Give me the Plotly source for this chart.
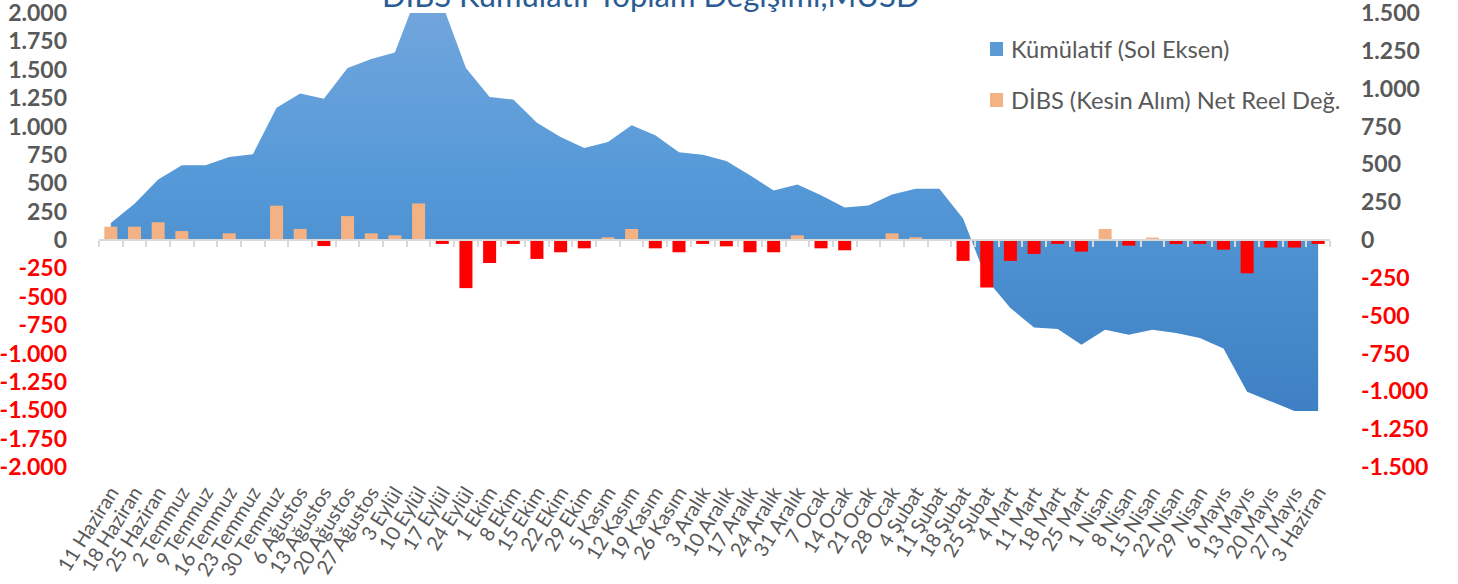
import plotly.graph_objects as go

categories = ["11 Haziran", "18 Haziran", "25 Haziran", "2 Temmuz", "9 Temmuz", "16 Temmuz", "23 Temmuz",
              "30 Temmuz", "6 Ağustos", "13 Ağustos", "20 Ağustos", "27 Ağustos", "3 Eylül", "10 Eylül",
              "17 Eylül", "24 Eylül", "1 Ekim", "8 Ekim", "15 Ekim", "22 Ekim", "29 Ekim", "5 Kasım",
              "12 Kasım", "19 Kasım", "26 Kasım", "3 Aralık", "10 Aralık", "17 Aralık", "24 Aralık",
              "31 Aralık", "7 Ocak", "14 Ocak", "21 Ocak", "28 Ocak", "4 Şubat", "11 Şubat", "18 Şubat",
              "25 Şubat", "4 Mart", "11 Mart", "18 Mart", "25 Mart", "1 Nisan", "8 Nisan", "15 Nisan",
              "22 Nisan", "29 Nisan", "6 Mayıs", "13 Mayıs", "20 Mayıs", "27 Mayıs", "3 Haziran"]

cumulative = [150, 320, 533, 658, 658, 732, 755, 1165, 1291, 1244, 1516, 1595, 1651, 2200, 2080, 1516,
              1259, 1238, 1033, 908, 811, 864, 1010, 922, 773, 752, 697, 571, 436, 489, 395, 287, 305,
              401, 451, 451, 190, -350, -600, -770, -784, -922, -790, -834, -790, -819, -863, -957,
              -1337, -1419, -1507, -1507]

weekly = [88, 88, 117, 59, 0, 44, 0, 227, 73, -40, 158, 44, 31, 242, -26, -318, -152, -26, -125, -81,
          -55, 18, 73, -55, -81, -26, -42, -81, -81, 31, -55, -68, 0, 44, 18, 0, -138, -314, -138, -92,
          -26, -77, 73, -37, 16, -26, -26, -64, -220, -50, -50, -26]

title_text = "DİBS Kümülatif Toplam Değişimi,MUSD"
legend_area = "Kümülatif (Sol Eksen)"
legend_bar = "DİBS (Kesin Alım) Net Reel Değ."

left_ticks = list(range(2000, -2001, -250))
right_ticks = list(range(1500, -1501, -250))

GRAY = "#595959"
RED = "#FF0000"
FONT = "Lato"


def fmt(v):
    s = f"{abs(v):,}".replace(",", ".")
    if v < 0:
        return f'<span style="color:{RED}">-{s}</span>'
    return s


bar_colors = ["#F4B183" if v >= 0 else RED for v in weekly]

fig = go.Figure()
fig.add_trace(go.Scatter(
    x=categories, y=cumulative, name=legend_area, mode="lines", fill="tozeroy",
    line=dict(width=0, color="rgba(0,0,0,0)"),
    fillgradient=dict(type="vertical",
                      colorscale=[[0, "#3E80C3"], [0.55, "#5599D8"], [1, "#74A7DD"]]),
    xaxis="x", yaxis="y", showlegend=False, hoverinfo="skip",
))
fig.add_trace(go.Bar(
    x=categories, y=weekly, name=legend_bar, marker=dict(color=bar_colors, line=dict(width=0)),
    width=0.55, xaxis="x2", yaxis="y2", showlegend=False, hoverinfo="skip",
))

L, R, T, B = 99, 128, 13, 117
W, H = 1458, 584
pw, ph = W - L - R, H - T - B

fig.update_layout(
    width=W, height=H, autosize=False,
    margin=dict(l=L, r=R, t=T, b=B, pad=0, autoexpand=False),
    paper_bgcolor="white", plot_bgcolor="white",
    font=dict(family=FONT, color=GRAY),
    showlegend=False,
    xaxis=dict(type="category", categoryorder="array", categoryarray=categories,
               range=[-0.5, len(categories) - 0.5], automargin=False,
               tickmode="linear", dtick=1, tickangle=-58, ticks="", showline=False,
               showgrid=False, zeroline=False, ticklabelstandoff=9,
               tickfont=dict(family=FONT, size=20, color=GRAY)),
    xaxis2=dict(type="category", overlaying="x", anchor="free", position=0.5, matches="x",
                automargin=False,
                showticklabels=False, ticks="outside", ticklen=6, tickwidth=2, tickcolor="#D9D9D9",
                tickson="boundaries", showline=True, linecolor="#D9D9D9", linewidth=2,
                showgrid=False, zeroline=False),
    yaxis=dict(range=[-2000, 2000], tickmode="array", tickvals=left_ticks, automargin=False,
               ticktext=[fmt(v) for v in left_ticks], showgrid=False, zeroline=False,
               showline=False, ticks="", ticklabelstandoff=31, ticklabeloverflow="allow",
               tickfont=dict(family=FONT, size=23, color=GRAY, weight="bold")),
    yaxis2=dict(range=[-1500, 1500], overlaying="y", side="right", anchor="x", automargin=False,
                tickmode="array", tickvals=right_ticks, ticktext=[fmt(v) for v in right_ticks],
                showgrid=False, zeroline=False, showline=False, ticks="", ticklabelstandoff=30,
                ticklabeloverflow="allow",
                tickfont=dict(family=FONT, size=23, color=GRAY, weight="bold")),
)


def px(xp):
    return (xp - L) / pw


def py(yp):
    return (H - B - yp) / ph


# title (partly cut off at top, as in reference)
fig.add_annotation(text=title_text, xref="paper", yref="paper", x=px(651), y=py(16),
                   xanchor="center", yanchor="bottom", showarrow=False,
                   font=dict(family=FONT, size=31, color="#2A5C94"))

# legend
legend_items = [(legend_area, "#5B9BD5", 49), (legend_bar, "#F4B183", 100)]
for label, col, yc in legend_items:
    fig.add_shape(type="rect", xref="paper", yref="paper",
                  x0=px(990), x1=px(1003), y0=py(yc - 7), y1=py(yc + 7),
                  fillcolor=col, line=dict(width=0))
    fig.add_annotation(text=label, xref="paper", yref="paper", x=px(1009), y=py(yc),
                       xanchor="left", yanchor="middle", showarrow=False,
                       font=dict(family=FONT, size=23.7, color=GRAY))

fig.write_html("out.html", config={"displayModeBar": False, "staticPlot": True},
               post_script="document.body.style.margin='0';document.body.style.overflow='hidden';")
